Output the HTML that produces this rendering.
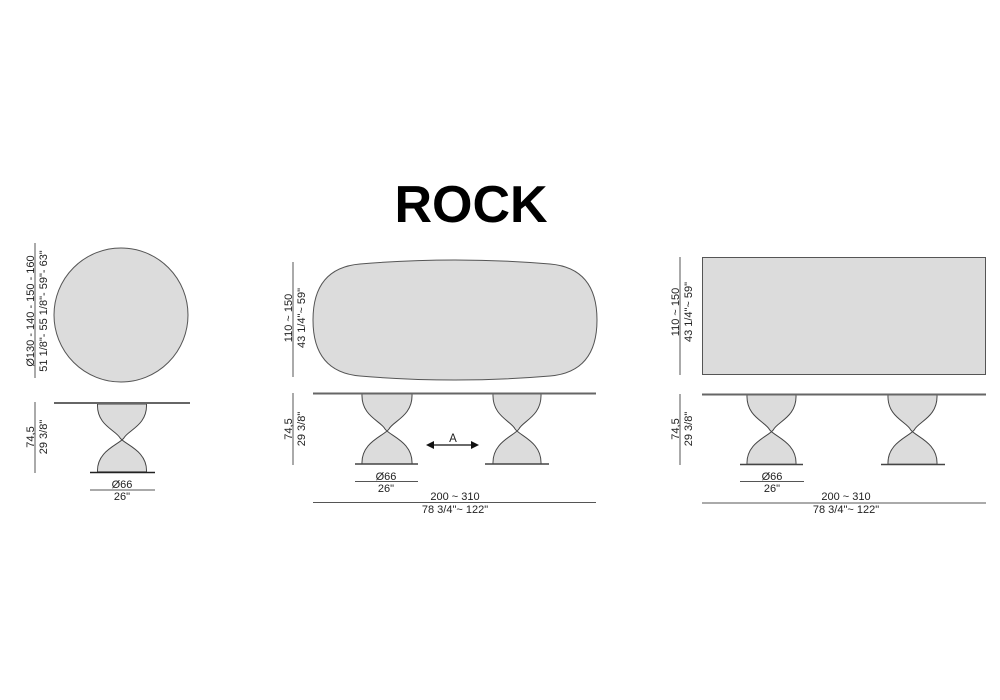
<!DOCTYPE html>
<html><head><meta charset="utf-8"><style>
html,body{margin:0;padding:0;background:#fff}
svg{display:block}
text{font-family:"Liberation Sans",sans-serif;fill:#222}
</style></head><body>
<svg width="1000" height="700" viewBox="0 0 1000 700">
<defs>
<path id="hg" d="M-25,0 L25,0 C26,22 6,27 2,35 C-3,42 -26,48 -25,70 L25,70 C26,48 3,42 -2,35 C-6,27 -26,22 -25,0 Z" fill="#dcdcdc" stroke="#444" stroke-width="1"/>
</defs>
<text x="471" y="222" font-size="52" font-weight="bold" text-anchor="middle" style="fill:#000">ROCK</text>

<!-- Round table -->
<circle cx="121" cy="315" r="67" fill="#dcdcdc" stroke="#555" stroke-width="1"/>
<line x1="35" y1="243" x2="35" y2="378" stroke="#555"/>
<text transform="translate(34,311) rotate(-90)" font-size="11" text-anchor="middle">Ø130 - 140 - 150 - 160</text>
<text transform="translate(47,311) rotate(-90)" font-size="11" text-anchor="middle">51 1/8"- 55 1/8"- 59"- 63"</text>
<use href="#hg" transform="translate(122,404) scale(0.98,0.97)"/>
<line x1="54" y1="403" x2="190" y2="403" stroke="#666" stroke-width="2"/>
<line x1="90" y1="472.5" x2="155" y2="472.5" stroke="#222" stroke-width="1.5"/>
<line x1="35" y1="402" x2="35" y2="473" stroke="#555"/>
<text transform="translate(34,437) rotate(-90)" font-size="11" text-anchor="middle">74,5</text>
<text transform="translate(47,437) rotate(-90)" font-size="11" text-anchor="middle">29 3/8"</text>
<text x="122" y="488" font-size="11" text-anchor="middle">Ø66</text>
<line x1="90" y1="490" x2="155" y2="490" stroke="#555"/>
<text x="122" y="500" font-size="11" text-anchor="middle">26"</text>

<!-- Oval table -->
<path d="M360,264 Q455,256 550,264 Q597,268 597,320 Q597,372 550,376 Q455,384 360,376 Q313,372 313,320 Q313,268 360,264 Z" fill="#dcdcdc" stroke="#555"/>
<line x1="293" y1="262" x2="293" y2="377" stroke="#555"/>
<text transform="translate(292,318) rotate(-90)" font-size="11" text-anchor="middle">110 ~ 150</text>
<text transform="translate(305,318) rotate(-90)" font-size="11" text-anchor="middle">43 1/4"~ 59"</text>
<use href="#hg" transform="translate(387,394)"/>
<use href="#hg" transform="translate(517,394) scale(0.96,1)"/>
<line x1="313" y1="393.5" x2="596" y2="393.5" stroke="#666" stroke-width="2"/>
<line x1="355" y1="464" x2="418" y2="464" stroke="#444" stroke-width="1.5"/>
<line x1="485" y1="464" x2="549" y2="464" stroke="#444" stroke-width="1.5"/>
<line x1="293" y1="393" x2="293" y2="465" stroke="#555"/>
<text transform="translate(292,429) rotate(-90)" font-size="11" text-anchor="middle">74,5</text>
<text transform="translate(305,429) rotate(-90)" font-size="11" text-anchor="middle">29 3/8"</text>
<line x1="432" y1="445" x2="473" y2="445" stroke="#111" stroke-width="1.2"/>
<polygon points="426,445 434,441 434,449" fill="#111"/>
<polygon points="479,445 471,441 471,449" fill="#111"/>
<text x="453" y="442" font-size="11.5" text-anchor="middle">A</text>
<text x="386" y="480" font-size="11" text-anchor="middle">Ø66</text>
<line x1="355" y1="481.5" x2="418" y2="481.5" stroke="#555"/>
<text x="386" y="492" font-size="11" text-anchor="middle">26"</text>
<text x="455" y="500" font-size="11" text-anchor="middle">200 ~ 310</text>
<line x1="313" y1="502.5" x2="596" y2="502.5" stroke="#555"/>
<text x="455" y="513" font-size="11" text-anchor="middle">78 3/4"~ 122"</text>

<!-- Rectangular table -->
<rect x="702.5" y="257.5" width="283" height="117" fill="#dcdcdc" stroke="#555"/>
<line x1="680" y1="257" x2="680" y2="375" stroke="#555"/>
<text transform="translate(679,312) rotate(-90)" font-size="11" text-anchor="middle">110 ~ 150</text>
<text transform="translate(692,312) rotate(-90)" font-size="11" text-anchor="middle">43 1/4"~ 59"</text>
<use href="#hg" transform="translate(771.5,395) scale(0.98,0.99)"/>
<use href="#hg" transform="translate(912.5,395) scale(0.98,0.99)"/>
<line x1="702" y1="394.5" x2="986" y2="394.5" stroke="#666" stroke-width="2"/>
<line x1="740" y1="464.5" x2="803" y2="464.5" stroke="#444" stroke-width="1.5"/>
<line x1="881" y1="464.5" x2="945" y2="464.5" stroke="#444" stroke-width="1.5"/>
<line x1="680" y1="394" x2="680" y2="465" stroke="#555"/>
<text transform="translate(679,429) rotate(-90)" font-size="11" text-anchor="middle">74,5</text>
<text transform="translate(692,429) rotate(-90)" font-size="11" text-anchor="middle">29 3/8"</text>
<text x="772" y="480" font-size="11" text-anchor="middle">Ø66</text>
<line x1="740" y1="481.5" x2="804" y2="481.5" stroke="#555"/>
<text x="772" y="492" font-size="11" text-anchor="middle">26"</text>
<text x="846" y="500" font-size="11" text-anchor="middle">200 ~ 310</text>
<line x1="702" y1="503" x2="986" y2="503" stroke="#555"/>
<text x="846" y="513" font-size="11" text-anchor="middle">78 3/4"~ 122"</text>
</svg>
</body></html>
